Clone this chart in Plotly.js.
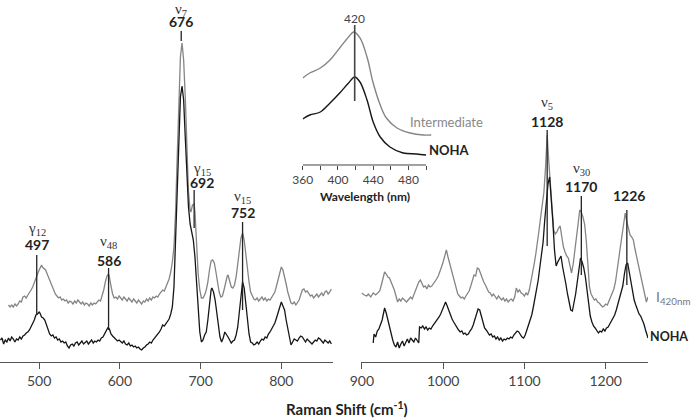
<!DOCTYPE html>
<html>
<head>
<meta charset="utf-8">
<script src="https://cdn.plot.ly/plotly-3.0.1.min.js"></script>
<style>html,body{margin:0;padding:0;background:#fff;}#chart{width:694px;height:419px;}</style>
</head>
<body>
<div id="chart"></div>
<script>
// ---------- DATA (intensities in arbitrary units) ----------
// Left panel, intermediate (I420nm) spectrum: [Raman shift cm-1, intensity]
const interLeft = [[462,57],[464,55],[466,57],[468,55],[470,58],[472,56],[474,58],[476,61],[478,60],[480,65],[482,66],[484,64],[486,67],[488,69],[490,72],[492,75],[494,80],[496,84],[498,88],[500,92],[502,96],[503,97],[504,95],[506,93],[508,92],[510,88],[512,84],[514,80],[516,76],[518,71],[520,68],[522,66],[524,64],[526,65],[528,62],[530,63],[532,61],[534,62],[536,59],[538,61],[540,60],[542,58],[544,61],[546,59],[548,62],[550,60],[552,58],[554,60],[556,57],[558,59],[560,58],[562,56],[564,59],[566,57],[568,59],[570,58],[572,60],[574,62],[576,61],[578,66],[580,72],[582,80],[584,86],[586,88],[587,85],[589,76],[591,68],[593,64],[595,65],[597,63],[599,66],[601,64],[603,62],[605,65],[607,63],[609,61],[611,64],[613,62],[615,60],[617,63],[619,61],[621,59],[623,62],[625,60],[627,58],[629,61],[631,60],[633,63],[635,61],[637,64],[639,62],[641,65],[643,64],[645,66],[647,65],[649,68],[651,70],[653,72],[655,71],[657,75],[659,78],[661,83],[663,90],[665,100],[667,115],[669,150],[671,205],[673,262],[675,305],[677,319],[679,302],[681,265],[683,215],[685,170],[687,152],[688,150],[690,157],[692,158],[693,150],[695,112],[697,88],[699,72],[701,64],[703,64],[705,67],[707,72],[709,80],[711,92],[713,101],[715,102],[717,99],[719,90],[721,80],[723,70],[725,65],[727,66],[729,72],[731,80],[733,86],[734,87],[736,82],[738,75],[740,74],[742,77],[744,85],[746,98],[748,112],[750,124],[752,129],[754,122],[756,108],[758,92],[760,80],[762,70],[764,66],[766,63],[768,62],[770,64],[772,61],[774,63],[776,65],[778,62],[780,64],[782,61],[784,63],[786,62],[788,65],[790,67],[792,70],[794,76],[796,82],[798,90],[800,95],[802,92],[804,86],[806,78],[808,70],[810,63],[812,59],[814,58],[816,60],[818,57],[820,59],[822,62],[824,67],[826,72],[828,73],[830,70],[832,71],[834,68],[836,66],[838,67],[840,64],[842,66],[844,68],[846,65],[848,67],[850,69],[852,66],[854,70],[856,71],[858,68],[860,70],[862,73]];

// Left panel, NOHA spectrum
const nohaLeft = [[452,22],[454,24],[456,18],[458,22],[460,20],[462,24],[464,21],[466,25],[468,23],[470,20],[472,23],[474,22],[476,25],[478,23],[480,26],[482,27],[484,29],[486,30],[488,32],[490,35],[492,38],[494,42],[496,47],[498,48],[500,50],[501,49],[503,45],[505,44],[507,42],[509,37],[511,32],[513,28],[515,26],[517,27],[519,24],[521,25],[523,22],[525,23],[527,20],[529,21],[531,19],[533,20],[535,16],[537,14],[539,17],[541,18],[543,16],[545,19],[547,20],[549,17],[551,19],[553,21],[555,18],[557,20],[559,21],[561,18],[563,20],[565,22],[567,19],[569,21],[571,20],[573,22],[575,21],[577,24],[579,25],[581,28],[583,31],[585,34],[587,33],[589,28],[591,26],[593,24],[595,22],[597,21],[599,22],[601,20],[603,19],[605,21],[607,18],[609,17],[611,19],[613,16],[615,17],[617,15],[619,16],[621,14],[623,15],[625,13],[627,12],[629,14],[631,15],[633,17],[635,18],[637,20],[639,19],[641,22],[643,24],[645,25],[647,28],[649,30],[651,33],[653,37],[655,36],[657,38],[659,41],[661,43],[663,48],[665,55],[667,75],[669,120],[671,175],[673,230],[675,265],[677,276],[679,262],[681,225],[683,185],[685,155],[687,138],[689,128],[691,122],[693,105],[695,78],[697,48],[699,30],[701,20],[703,22],[705,27],[707,30],[709,42],[711,60],[713,72],[714,74],[716,70],[718,62],[720,48],[722,37],[724,25],[726,20],[728,24],[730,30],[732,28],[734,25],[736,22],[738,19],[740,21],[742,22],[744,27],[746,35],[748,50],[750,68],[752,80],[754,74],[756,58],[758,40],[760,28],[762,20],[764,19],[766,17],[768,18],[770,20],[772,18],[774,21],[776,23],[778,22],[780,25],[782,24],[784,28],[786,30],[788,33],[790,36],[792,39],[794,44],[796,49],[798,55],[800,60],[802,56],[804,52],[806,42],[808,34],[810,26],[812,17],[814,20],[816,23],[818,22],[820,21],[822,24],[824,26],[826,25],[828,22],[830,20],[832,23],[834,21],[836,19],[838,18],[840,20],[842,22],[844,21],[846,24],[848,23],[850,21],[852,19],[854,22],[856,20],[858,19],[860,21],[862,18]];

// Right panel, intermediate (I420nm) spectrum
const interRight = [[900,69],[903,67],[906,66],[908,68],[911,65],[914,69],[917,67],[920,70],[922,71],[924,77],[926,85],[928,90],[930,88],[932,85],[934,84],[936,80],[938,76],[940,72],[942,66],[944,60],[946,63],[948,61],[950,64],[952,62],[955,60],[958,63],[960,65],[962,63],[964,67],[966,70],[968,74],[970,80],[972,82],[974,79],[976,75],[978,76],[980,73],[982,77],[984,75],[986,76],[988,78],[990,80],[992,83],[994,86],[996,90],[998,95],[1000,100],[1002,106],[1004,112],[1006,105],[1008,99],[1010,92],[1012,86],[1014,80],[1016,74],[1018,68],[1020,66],[1022,64],[1024,65],[1026,63],[1028,66],[1030,69],[1032,71],[1034,76],[1036,82],[1038,87],[1040,86],[1042,94],[1044,93],[1046,88],[1048,83],[1050,80],[1052,77],[1054,73],[1056,70],[1058,69],[1060,66],[1062,68],[1064,65],[1066,63],[1068,66],[1070,64],[1072,62],[1074,64],[1076,61],[1078,63],[1080,60],[1082,62],[1084,63],[1086,61],[1088,65],[1090,74],[1092,70],[1094,72],[1096,69],[1098,68],[1100,66],[1102,69],[1104,67],[1106,72],[1108,80],[1110,88],[1112,98],[1114,108],[1116,118],[1118,132],[1120,145],[1122,157],[1124,170],[1126,195],[1128,227],[1130,200],[1132,180],[1134,155],[1136,132],[1138,128],[1140,130],[1142,134],[1144,136],[1146,125],[1148,115],[1150,110],[1152,106],[1154,104],[1156,96],[1158,89],[1160,98],[1162,110],[1164,124],[1166,138],[1168,152],[1170,150],[1172,145],[1174,138],[1176,122],[1178,92],[1180,75],[1182,68],[1184,65],[1186,62],[1188,63],[1190,60],[1192,59],[1194,57],[1196,55],[1198,56],[1200,58],[1202,57],[1204,61],[1206,64],[1208,68],[1210,73],[1212,80],[1214,90],[1216,103],[1218,115],[1220,126],[1222,140],[1224,149],[1226,140],[1228,133],[1230,127],[1232,125],[1234,122],[1236,113],[1238,105],[1240,100],[1242,90],[1244,82],[1246,74],[1248,66],[1250,60],[1252,65]];

// Right panel, NOHA spectrum
const nohaRight = [[914,19],[915,28],[917,25],[919,31],[921,33],[923,37],[925,42],[927,50],[928,54],[930,49],[932,42],[934,34],[936,26],[938,22],[940,17],[942,15],[944,20],[946,14],[948,18],[950,21],[952,16],[954,20],[956,23],[958,19],[960,24],[962,22],[964,20],[966,24],[968,21],[970,19],[971,35],[973,34],[975,36],[977,33],[979,35],[981,32],[983,34],[985,33],[987,36],[989,38],[991,40],[993,42],[995,45],[997,48],[999,52],[1001,57],[1003,60],[1005,56],[1007,51],[1009,47],[1011,43],[1013,40],[1015,37],[1017,35],[1019,32],[1021,30],[1023,31],[1025,28],[1027,29],[1029,27],[1031,28],[1033,31],[1035,33],[1037,37],[1039,42],[1041,48],[1043,53],[1045,52],[1047,45],[1049,38],[1051,34],[1053,32],[1055,29],[1057,27],[1059,28],[1061,25],[1063,26],[1065,23],[1067,25],[1069,22],[1071,24],[1073,21],[1075,23],[1077,22],[1079,24],[1081,23],[1083,25],[1085,24],[1087,27],[1089,29],[1091,31],[1093,30],[1095,27],[1097,25],[1099,24],[1101,27],[1103,32],[1105,37],[1107,40],[1109,47],[1111,55],[1113,64],[1115,72],[1117,82],[1119,95],[1121,106],[1123,120],[1125,142],[1127,160],[1129,178],[1131,185],[1133,165],[1135,140],[1137,112],[1139,96],[1141,100],[1143,104],[1145,106],[1147,95],[1149,88],[1151,78],[1153,68],[1155,60],[1157,52],[1159,51],[1161,58],[1163,68],[1165,80],[1167,94],[1169,104],[1171,100],[1173,94],[1175,85],[1177,70],[1179,58],[1181,46],[1183,40],[1185,36],[1187,34],[1189,32],[1191,29],[1193,31],[1195,30],[1197,33],[1199,31],[1201,34],[1203,35],[1205,38],[1207,41],[1209,43],[1211,47],[1213,52],[1215,58],[1217,64],[1219,70],[1221,76],[1223,88],[1225,97],[1227,99],[1229,90],[1231,80],[1233,68],[1235,62],[1237,57],[1239,52],[1241,48],[1243,46],[1245,42],[1247,38],[1249,32],[1251,27],[1252,24]];

// Inset absorption spectra
const insetWlInter = [360, 368, 380, 391, 402, 412, 418, 425, 433, 440, 448, 455, 467, 482, 497, 506];
const insetInter   = [87, 92, 97, 105, 117, 128, 133, 127, 108, 82, 60, 47, 37, 32, 30, 30];
const insetWlNoha  = [360, 368, 380, 391, 402, 412, 419, 425, 433, 440, 448, 459, 474, 489, 500];
const insetNoha    = [46, 50, 53, 62, 72, 82, 88, 83, 65, 43, 28, 18, 12, 11, 10];

// Tick labels
const leftTicks  = [500, 600, 700, 800];
const rightTicks = [900, 1000, 1100, 1200];
const insetTicks = [360, 380, 400, 420, 440, 460, 480, 500];
const insetTickText = ['360', '', '400', '', '440', '', '480', ''];

// Peak labels
const peakWn    = [497, 586, 676, 692, 752, 1128, 1170, 1226];
const peakGreek = ['γ', 'ν', 'ν', 'γ', 'ν', 'ν', 'ν', ''];
const peakSub   = ['12', '48', '7', '15', '15', '5', '30', ''];
const insetPeak = 420;

// ---------- STYLE / LAYOUT ----------
const GRAY = '#858585', BLACK = '#161616';
const xs = a => a.map(p => p[0]), ys = a => a.map(p => p[1]);

const traces = [
  {x: xs(interLeft), y: ys(interLeft), xaxis: 'x', yaxis: 'y', mode: 'lines', line: {color: GRAY, width: 1.3}},
  {x: xs(interRight), y: ys(interRight), xaxis: 'x2', yaxis: 'y', mode: 'lines', line: {color: GRAY, width: 1.3}},
  {x: xs(nohaLeft), y: ys(nohaLeft), xaxis: 'x', yaxis: 'y', mode: 'lines', line: {color: BLACK, width: 1.3}},
  {x: xs(nohaRight), y: ys(nohaRight), xaxis: 'x2', yaxis: 'y', mode: 'lines', line: {color: BLACK, width: 1.3}},
  {x: insetWlInter, y: insetInter, xaxis: 'x3', yaxis: 'y3', mode: 'lines', line: {color: GRAY, width: 1.4, shape: 'spline', smoothing: 1}},
  {x: insetWlNoha, y: insetNoha, xaxis: 'x3', yaxis: 'y3', mode: 'lines', line: {color: BLACK, width: 1.4, shape: 'spline', smoothing: 1}}
];

// label geometry (intensity units): greek y, number y, line top, line bottom, x shift of text
const geo = [
  {gy: 133, ny: 118, t: 107, b: 47, dx: 0, xa: 'x'},
  {gy: 120, ny: 102, t: 94, b: 32, dx: 0, xa: 'x'},
  {gy: 352, ny: 341, t: 331, b: 321, dx: 0, xa: 'x'},
  {gy: 193, ny: 180, t: 172, b: 134, dx: 8, xa: 'x'},
  {gy: 165, ny: 150, t: 140, b: 52, dx: 0, xa: 'x'},
  {gy: 259, ny: 241, t: 232, b: 116, dx: 0, xa: 'x2'},
  {gy: 193, ny: 176, t: 166, b: 87, dx: 0, xa: 'x2'},
  {gy: 0, ny: 167, t: 152, b: 77, dx: 2, xa: 'x2'}
];

const annotations = [];
const shapes = [];
peakWn.forEach((wn, i) => {
  const g = geo[i];
  if (peakGreek[i]) {
    annotations.push({x: wn, y: g.gy, xref: g.xa, yref: 'y', xshift: g.dx, showarrow: false,
      text: peakGreek[i] + '<sub>' + peakSub[i] + '</sub>', font: {family: 'Liberation Serif', size: 15, color: '#333'},
      xanchor: 'center', yanchor: 'middle'});
  }
  annotations.push({x: wn, y: g.ny, xref: g.xa, yref: 'y', xshift: g.dx, showarrow: false,
    text: '<b>' + wn + '</b>', font: {family: 'Lato', size: 14, color: '#222'}, xanchor: 'center', yanchor: 'middle'});
  shapes.push({type: 'line', xref: g.xa, yref: 'y', x0: wn, x1: wn, y0: g.b, y1: g.t, line: {color: '#222', width: 1.3}});
});

// paper-positioned texts (series labels, inset texts, axis title)
const paperText = (x, y, text, font, xanchor) => annotations.push({x: x, y: y, xref: 'paper', yref: 'paper',
  showarrow: false, xanchor: xanchor || 'center', yanchor: 'middle', text: text, font: font});
paperText(0.9424, 0.1768, 'I<sub>420nm</sub>', {family: 'Lato', size: 14, color: '#777'}, 'left');
paperText(0.9945, 0.0699, '<b>NOHA</b>', {family: 'Lato', size: 12.5, color: '#222'}, 'right');
paperText(0.6427, 0.6638, 'Intermediate', {family: 'Lato', size: 13, color: '#888'});
paperText(0.6484, 0.5856, '<b>NOHA</b>', {family: 'Lato', size: 13, color: '#222'});
paperText(0.5101, 0.950, String(insetPeak), {family: 'Lato', size: 12, color: '#444'});
paperText(0.526, 0.458, '<b>Wavelength (nm)</b>', {family: 'Lato', size: 12, color: '#222'});
paperText(0.5, -0.128, '<b>Raman Shift (cm<sup>-1</sup>)</b>', {family: 'Lato', size: 15, color: '#222'});

shapes.push({type: 'line', xref: 'x3', yref: 'y3', x0: insetPeak - 1, x1: insetPeak - 1, y0: 64, y1: 140, line: {color: '#444', width: 1.6}});
shapes.push({type: 'line', xref: 'x3', yref: 'y3 domain', x0: 360, x1: 500, y0: 0, y1: 0, line: {color: '#444', width: 1}});

const mainAxis = {
  showline: true, linecolor: '#555', linewidth: 1, ticks: 'outside', ticklen: 6, tickcolor: '#555', tickwidth: 1,
  showgrid: false, zeroline: false, tickfont: {family: 'Lato', size: 14, color: '#444'}, fixedrange: true
};

const layout = {
  width: 694, height: 419,
  margin: {l: 0, r: 0, t: 0, b: 57},
  paper_bgcolor: '#fff', plot_bgcolor: 'rgba(0,0,0,0)',
  showlegend: false,
  xaxis: Object.assign({}, mainAxis, {domain: [0, 0.4798], range: [451.5, 864], anchor: 'y', tickvals: leftTicks}),
  xaxis2: Object.assign({}, mainAxis, {domain: [0.5202, 0.9337], range: [899, 1252], anchor: 'y', tickvals: rightTicks}),
  yaxis: {domain: [0, 1], range: [0, 362], visible: false, fixedrange: true},
  xaxis3: {domain: [0.4362, 0.6220], range: [360, 506.4], anchor: 'y3', showline: false, showgrid: false, zeroline: false,
    ticks: 'outside', ticklen: 4, tickcolor: '#444', tickvals: insetTicks, ticktext: insetTickText,
    tickfont: {family: 'Lato', size: 12, color: '#444'}, fixedrange: true},
  yaxis3: {domain: [0.5442, 0.9448], range: [0, 145], anchor: 'x3', visible: false, fixedrange: true},
  annotations: annotations,
  shapes: shapes
};

Plotly.newPlot('chart', traces, layout, {staticPlot: true, displayModeBar: false});
</script>
</body>
</html>
